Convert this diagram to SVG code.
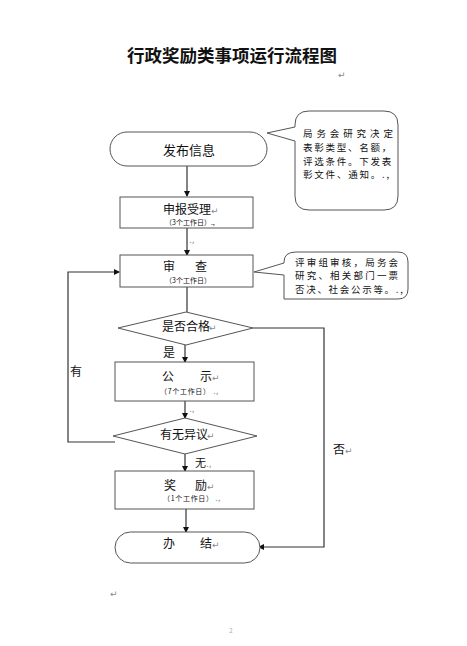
<svg xmlns="http://www.w3.org/2000/svg" width="467" height="646" viewBox="0 0 467 646">
<defs>
<marker id="ah" markerWidth="6" markerHeight="6" refX="5" refY="3" orient="auto" markerUnits="userSpaceOnUse">
<path d="M0,0 L6,3 L0,6 Z" fill="#111"/>
</marker>
<style>
.t{font-family:"Noto Sans CJK SC","Liberation Sans",sans-serif;fill:#111}
.title{font-size:17.5px;font-weight:bold}
.m{font-size:12px}
.c{font-size:9.5px}
.s{font-size:7px}
.r{font-family:"DejaVu Sans",sans-serif;fill:#888;font-size:9px}
.box{fill:#fff;stroke:#555;stroke-width:1}
.ln{fill:none;stroke:#333;stroke-width:1.2}
</style>
</defs>
<rect width="467" height="646" fill="#fff"/>
<g id="title">
<text class="t title" x="232" y="62" text-anchor="middle">行政奖励类事项运行流程图</text>
<text class="r" x="338" y="78">↵</text>
</g>
<g id="connectors">
<line class="ln" x1="187" y1="166" x2="187" y2="196" marker-end="url(#ah)"/>
<line class="ln" x1="187" y1="228" x2="187" y2="255" marker-end="url(#ah)"/>
<line class="ln" x1="187" y1="287" x2="187" y2="312"/>
<line class="ln" x1="185" y1="345" x2="185" y2="362" marker-end="url(#ah)"/>
<line class="ln" x1="185" y1="401" x2="185" y2="418" marker-end="url(#ah)"/>
<line class="ln" x1="185" y1="454" x2="185" y2="471" marker-end="url(#ah)"/>
<line class="ln" x1="186" y1="509" x2="186" y2="532" marker-end="url(#ah)"/>
<polyline class="ln" points="115,442 68,442 68,272 119,272" marker-end="url(#ah)"/>
<polyline class="ln" points="253,328 324,328 324,547 259,547" marker-end="url(#ah)"/>
</g>
<g id="n-publish">
<rect class="box" x="110" y="132" width="157" height="34" rx="17"/>
<text class="t" x="189" y="155" font-size="13" text-anchor="middle">发布信息</text>
</g>
<g id="callout1">
<path class="box" d="M309,111 H384 Q398,111 398,125 V196 Q398,210 384,210 H309 Q295,210 295,196 V141 L267,133 L295,127 V125 Q295,111 309,111 Z"/>
<text class="t c"><tspan x="303" y="137" letter-spacing="3.9">局务会研究决定</tspan><tspan x="303" y="150.8" letter-spacing="1.75">表彰类型、名额，</tspan><tspan x="303" y="164.6" letter-spacing="1.75">评选条件。下发表</tspan><tspan x="303" y="178.4" letter-spacing="1.8">彰文件、通知。.,</tspan></text>
</g>
<g id="n-apply">
<rect class="box" x="120" y="197" width="133" height="31"/>
<text class="t m" x="163" y="214">申报受理</text>
<text class="r" x="211" y="214">↵</text>
<text class="t s" x="165" y="225">（3个工作日）.,</text>
<text class="r" x="189" y="243" font-size="5">.,</text>
</g>
<g id="n-review">
<rect class="box" x="120" y="255" width="133" height="32"/>
<text class="t m" x="163" y="271">审</text>
<text class="t m" x="195" y="271">查</text>
<text class="t s" x="165" y="283">（3个工作日）</text>
</g>
<g id="callout2">
<path class="box" d="M296,252 H398 Q408,252 408,262 V289 Q408,299 398,299 H284 V275 L254,272 L284,263 V262 Q284,252 296,252 Z"/>
<text class="t c"><tspan x="295" y="265.5" letter-spacing="2.2">评审组审核，局务会</tspan><tspan x="295" y="279.3" letter-spacing="2.2">研究、相关部门一票</tspan><tspan x="295" y="293.1" letter-spacing="1.7">否决、社会公示等。.,</tspan></text>
</g>
<g id="n-qualified">
<polygon class="box" points="118,328 186,312 253,328 186,345"/>
<text class="t m" x="162" y="331">是否合格</text>
<text class="r" x="209" y="331">↵</text>
</g>
<g id="lbl-yes">
<text class="t m" x="163" y="357">是</text>
</g>
<g id="lbl-have">
<text class="t m" x="70" y="376">有</text>
</g>
<g id="n-publicize">
<rect class="box" x="115" y="362" width="139" height="39"/>
<text class="t m" x="162" y="381">公</text>
<text class="t m" x="200" y="381">示</text>
<text class="r" x="212" y="381">↵</text>
<text class="t s" x="160" y="394" textLength="50" lengthAdjust="spacing">（7个工作日）</text>
<text class="r" x="213" y="394" font-size="5">.,</text>
<text class="r" x="189" y="412" font-size="5">.,</text>
</g>
<g id="n-objection">
<polygon class="box" points="113,436 185,418 257,436 185,454"/>
<text class="t m" x="160" y="439">有无异议</text>
<text class="r" x="207" y="439">↵</text>
</g>
<g id="lbl-none">
<text class="t" x="195" y="467" font-size="11">无</text>
<text class="r" x="206" y="467" font-size="5">.,</text>
</g>
<g id="lbl-no">
<text class="t m" x="333" y="454">否</text>
<text class="r" x="345" y="454">↵</text>
</g>
<g id="n-award">
<rect class="box" x="115" y="471" width="139" height="38"/>
<text class="t m" x="164" y="490">奖</text>
<text class="t m" x="195" y="490">励</text>
<text class="r" x="207" y="490">↵</text>
<text class="t s" x="163" y="501" textLength="50" lengthAdjust="spacing">（1个工作日）</text>
<text class="r" x="215" y="501" font-size="5">.,</text>
</g>
<g id="n-done">
<rect class="box" x="115" y="532" width="145" height="31" rx="15.5"/>
<text class="t m" x="163" y="548">办</text>
<text class="t m" x="200" y="548">结</text>
<text class="r" x="212" y="548">↵</text>
</g>
<g id="footer">
<text class="r" x="110" y="597">↵</text>
<text class="t" x="231" y="633" font-size="6" text-anchor="middle" style="fill:#aaa">2</text>
</g>
</svg>
